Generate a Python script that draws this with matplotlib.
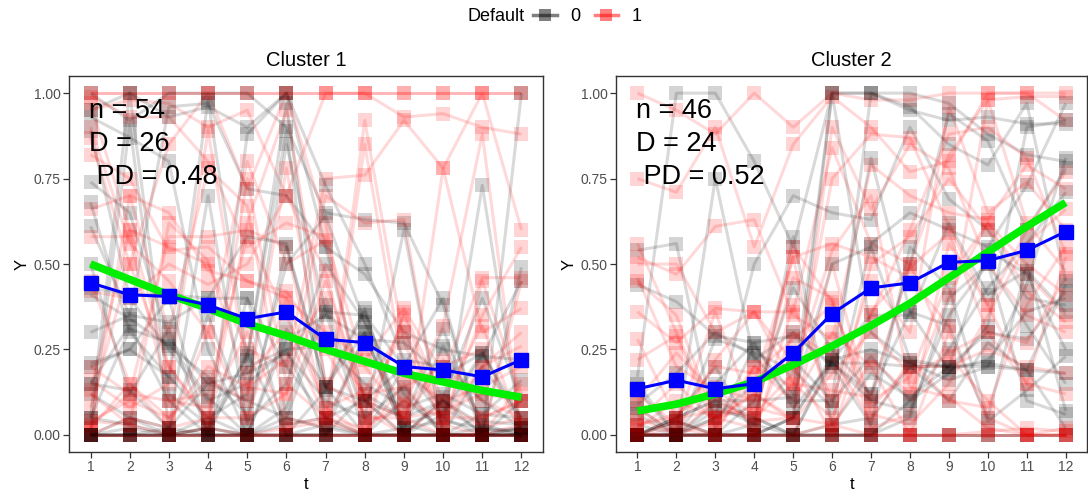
import matplotlib
matplotlib.use("Agg")
import matplotlib.pyplot as plt
from matplotlib.lines import Line2D
import numpy as np

plt.rcParams['font.family'] = ['Liberation Sans', 'DejaVu Sans']

t = list(range(1, 13))

# cluster 1 trajectories, default = 0
c1_black = [
    [0, 0, 0, 0, 0, 0, 0, 0, 0, 0, 0, 0],
    [0, 0, 0, 0, 0, 0, 0, 0, 0, 0, 0, 0],
    [0, 0, 0.02, 0, 0, 0, 0, 0, 0, 0, 0, 0],
    [0.05, 0.03, 0, 0.02, 0, 0, 0.03, 0, 0, 0, 0, 0.02],
    [1, 0.92, 1, 1, 1, 0.9, 0.65, 0.63, 0.62, 0.38, 0, 0],
    [0.61, 0.35, 0.33, 0.4, 0.4, 0, 0.13, 0.36, 0.03, 0.07, 0.24, 0.03],
    [0.2, 0.25, 0.4, 0, 0.88, 1, 0.55, 0.1, 0.05, 0.31, 0, 0.49],
    [0.74, 0.65, 0.28, 0.15, 0.1, 0.05, 0.36, 0.35, 0.2, 0.08, 0.01, 0.02],
    [0.3, 0.35, 0.96, 0.97, 0.72, 0.7, 0.55, 0.47, 0.3, 0.25, 0.23, 0.22],
    [0.12, 0.05, 0, 0.02, 0.2, 0.25, 0, 0.3, 0, 0.11, 0.4, 0.1],
    [0, 0.91, 0.02, 0.7, 0.03, 0.55, 0.14, 0, 0.1, 0.02, 0.73, 0],
    [0.41, 0.34, 0.26, 0.17, 0.06, 0.5, 0.64, 0.33, 0.12, 0, 0.06, 0.16],
    [0.05, 1, 0.12, 0.03, 0.23, 0.89, 0.03, 0.29, 0.03, 0, 0.02, 0.01],
    [0.89, 0.4, 0.25, 0.1, 0.15, 0.25, 0.26, 0.15, 0.08, 0.12, 0.06, 0.05],
    [0.68, 0.3, 0.17, 0.05, 0.12, 0.85, 0.36, 0, 0.2, 0.4, 0, 0],
    [0.43, 0.41, 0.41, 0.4, 0.58, 0.56, 0.14, 0.3, 0, 0, 0.2, 0.05],
    [0.15, 0.13, 0.02, 0.35, 0.04, 0.15, 0.5, 0.33, 0.02, 0.26, 0.04, 0.03],
    [0.21, 0.25, 0.17, 0.98, 0.22, 0.97, 0.14, 0.1, 0.2, 0.05, 0, 0.1],
    [0, 0.02, 0, 0.02, 0, 0.03, 0.05, 0, 0.02, 0.04, 0.02, 0],
    [0.5, 0.12, 0.31, 0, 0.24, 0, 0, 0.12, 0.05, 0.1, 0, 0],
    [0, 0, 0, 0.05, 0, 0.31, 0.14, 0.37, 0, 0.06, 0.23, 0.45],
    [0.93, 0.87, 0.8, 0.25, 0, 0.08, 0.38, 0.05, 0.14, 0, 0, 0],
    [0.15, 0.32, 0.1, 0, 0.4, 0.2, 0.05, 0.1, 0, 0.1, 0.03, 0],
    [0.05, 0.31, 0.27, 0.11, 0, 0.28, 0.35, 0.28, 0.27, 0.17, 0.24, 0.05],
    [0, 0.05, 0.02, 0.15, 0.18, 0.24, 0.1, 0.05, 0.6, 0, 0, 0.02],
    [0, 0, 0, 0, 0, 0, 0, 0, 0, 0, 0, 1],
    [0.95, 1, 0.93, 0.96, 0.9, 1, 0.73, 0.5, 0.22, 0.2, 0.1, 0.02],
    [0, 0, 0, 0, 0, 0.05, 0.02, 0, 0, 0, 0, 0],
]

# cluster 1 trajectories, default = 1
c1_red = [
    [1, 1, 1, 1, 1, 1, 1, 1, 1, 1, 1, 1],
    [1, 1, 1, 1, 1, 1, 1, 1, 1, 1, 1, 1],
    [0, 0, 0, 0, 0, 0, 0, 0, 0, 0, 0, 0],
    [0, 0, 0, 0, 0, 0, 0, 0, 0, 0, 0, 0],
    [0, 0, 0, 0, 0, 0, 0, 0, 0, 0, 0, 0],
    [0.95, 0.98, 0.97, 0.9, 0.95, 0.7, 1, 1, 0.93, 0.94, 0.9, 0.88],
    [0.97, 0.6, 0.55, 0.5, 0.25, 0.2, 0.75, 0.76, 0.92, 0.78, 1, 0.6],
    [0.03, 0.12, 0.58, 0.58, 0.6, 0.55, 0.05, 0, 0.15, 0, 0, 0.45],
    [0.66, 0.7, 0.65, 0.48, 0.45, 0.4, 0.3, 0.22, 0.37, 0.18, 0.46, 0.46],
    [0.9, 0.56, 0.45, 0.3, 0.8, 0.5, 0.57, 0.1, 0, 0.78, 0.3, 0.37],
    [0.08, 0.5, 0.85, 1, 0.72, 1, 0.62, 0.03, 0.35, 0.05, 0.2, 0.26],
    [0.16, 0.08, 0.15, 0.89, 0.18, 0.3, 0.05, 0.92, 0.27, 0.03, 0, 0.15],
    [0.45, 0.15, 0.02, 0.3, 0.05, 0.12, 0.7, 0.62, 0.63, 0, 0.45, 0.12],
    [0.02, 0.7, 0.3, 0.78, 0.67, 0.05, 0.02, 0.85, 0.18, 0.1, 0.32, 0.02],
    [0.04, 0.03, 0.62, 0.51, 0.14, 0.12, 0.45, 0.1, 0.05, 0.07, 0.12, 0.1],
    [0.87, 0.5, 0.2, 0.04, 0.62, 0.95, 0.28, 0.12, 0.14, 0.2, 0.25, 0],
    [0.58, 0.58, 0.1, 0.12, 0.58, 0.35, 0.08, 0, 0.36, 0.1, 0.02, 0.05],
    [0.13, 0.6, 0.2, 0.05, 0.75, 0.15, 0.05, 0.25, 0.09, 0.32, 0.88, 0],
    [0.02, 0.15, 0.05, 0.16, 0.1, 0.78, 0.15, 0.07, 0, 0.1, 0.14, 0.2],
    [0.99, 0.93, 0.93, 0.8, 0.55, 0.62, 0.58, 0.2, 0.05, 0.2, 0.05, 0.1],
    [0.04, 0.1, 0.05, 0.2, 0.14, 0.22, 0.4, 0.1, 0.3, 0.05, 0.35, 0.55],
    [0.82, 0.75, 0.54, 0.55, 0.45, 0.42, 0.25, 0.05, 0.05, 0, 0, 0],
    [0, 0.05, 0.02, 0.05, 0.05, 0.4, 0.08, 0.13, 0.32, 0.02, 0.2, 0.3],
    [0.2, 0.12, 0.1, 0.08, 0.3, 0.03, 0.05, 0.02, 0.1, 0.05, 0.05, 0.1],
    [0.42, 0.4, 0.5, 0.44, 0.5, 0.7, 0.48, 0.04, 0.07, 0.22, 0.1, 0.05],
    [0.12, 0.03, 0, 0.02, 0, 0.02, 0.04, 0, 0, 0, 0, 0.03],
]

# cluster 2 trajectories, default = 0
c2_black = [
    [0, 0, 0, 0, 0, 0, 0, 0, 0, 0, 0, 0],
    [0, 0, 0, 0, 0, 0, 0, 0, 0, 0, 0, 0],
    [0.17, 1, 1, 0.8, 0.55, 1, 1, 1, 0.97, 0.88, 0.82, 0.8],
    [0.54, 0.56, 0.02, 0.26, 0.12, 1, 1, 0.95, 0.92, 0.93, 0.91, 0.91],
    [0.44, 0.39, 0.29, 0.27, 0.29, 0.21, 0.21, 0.2, 0.2, 0.2, 0.19, 0.18],
    [0, 0, 0.05, 0.5, 0.7, 0.65, 0.63, 0.9, 0.69, 0.6, 0.4, 0.38],
    [0, 0.05, 0.2, 0, 0.05, 0.23, 0.81, 0.36, 0.32, 0.04, 0.13, 0.23],
    [0.15, 0, 0.28, 0.24, 0.19, 0.08, 0.56, 0.65, 0.6, 0.55, 0.73, 0.97],
    [0.09, 0.18, 0.3, 0.23, 0.1, 0.1, 1, 0.96, 0.85, 0.79, 0.97, 0.45],
    [0, 0, 0.07, 0.05, 0, 0.22, 0.25, 0.21, 0.2, 0.21, 0.19, 0.02],
    [0, 0.05, 0.1, 0.1, 0.43, 0.25, 0.12, 0.5, 0.94, 0.86, 0.6, 0.78],
    [0, 0, 0, 0, 0, 0.03, 0.18, 0.11, 0.2, 0.3, 0.28, 0.42],
    [0.13, 0, 0.75, 0.22, 0.3, 0.2, 0.03, 0.55, 0.43, 0.05, 0.5, 0.07],
    [0, 0.05, 0.1, 0.05, 0, 0, 0, 0.05, 0.4, 0.5, 0.32, 0.15],
    [0, 0.04, 0, 0, 0.05, 0.22, 0.35, 0.35, 0.62, 0.41, 0.48, 0.36],
    [0.06, 0, 0.05, 0.15, 0.22, 0.1, 0.23, 0.1, 0.18, 0.32, 0.9, 0.92],
    [0, 0, 0, 0.03, 0.58, 0.03, 0.05, 0.2, 0.1, 0.27, 0.19, 0.44],
    [0.03, 0, 0.15, 0.27, 0.08, 0.21, 0.12, 0.36, 0.19, 0.22, 0.36, 0.4],
    [0, 0, 0, 0, 0.05, 1, 0.3, 0.21, 0.16, 0.2, 0.44, 0.81],
    [0, 0.04, 0, 0.1, 0.11, 0.5, 0.55, 0.22, 0.2, 0.54, 0.47, 0.25],
    [0.08, 0, 0.09, 0.03, 0, 0.21, 0.1, 0.07, 0.35, 0.5, 0.1, 0.06],
    [0, 0, 0, 0, 0, 0, 0, 0.1, 0.25, 0.43, 0.56, 0.71],
]

# cluster 2 trajectories, default = 1
c2_red = [
    [0, 0, 0, 0, 0, 0, 0, 0, 0, 0, 0, 0],
    [0, 0, 0, 0, 0, 0, 0, 0, 0, 0, 0, 0],
    [1, 0.95, 0.88, 1, 0.9, 1, 0.98, 0.98, 1, 1, 1, 1],
    [0.75, 0.71, 0.9, 0.55, 0.85, 0.99, 0.9, 0.77, 0.8, 1, 1, 0.92],
    [0.52, 0.47, 0.61, 0.63, 0.35, 0.28, 0.79, 0.7, 0.65, 0.63, 0.79, 0.72],
    [0.36, 0.27, 0.37, 0.36, 0.36, 0.84, 0.56, 0.5, 0.82, 0.98, 0.99, 0.99],
    [0.22, 0.29, 0.02, 0.15, 0.52, 0.56, 0.52, 0.46, 0.32, 0.98, 0.62, 0.48],
    [0.46, 0.2, 0.13, 0.06, 0.46, 0.4, 0.02, 0.06, 0.56, 0.38, 0.6, 0.77],
    [0.08, 0, 0.04, 0.12, 0.05, 0.03, 0.5, 0.58, 0.75, 0.6, 0.47, 0.35],
    [0.02, 0.1, 0.05, 0.08, 0.05, 0.5, 0.08, 0.2, 0.2, 0.25, 0.2, 0.18],
    [0.12, 0.03, 0.36, 0.05, 0.15, 0.13, 0.11, 0.5, 0.24, 0.3, 0.15, 0.52],
    [0.28, 0.05, 0.2, 0.18, 0.28, 0.38, 0.1, 0.17, 0.46, 0.62, 0.42, 0.33],
    [0, 0, 0.1, 0.04, 0.05, 0.9, 0.66, 0.85, 0.78, 0.5, 0.35, 0.3],
    [0.04, 0.15, 0.04, 0.2, 0.1, 0.3, 0.2, 0, 0.3, 0.05, 0, 0],
    [0.56, 0.3, 0.05, 0.02, 0.3, 0.23, 0.04, 0.22, 0.1, 0.08, 0.38, 0.55],
    [0.05, 0, 0.22, 0.36, 0.15, 0.05, 0.36, 0.49, 0.59, 0.3, 0.27, 0.46],
    [0, 0.02, 0, 0, 0.38, 0.1, 0.45, 0.3, 0.96, 0.65, 0.74, 0.6],
    [0.03, 0.05, 0.07, 0.06, 0.18, 0.54, 0.7, 0.14, 0.11, 0.02, 0, 0],
    [0.1, 0.24, 0.12, 0.03, 0.55, 0.39, 0.06, 0.03, 0.15, 0.35, 0.56, 0.66],
    [0.03, 0.06, 0.14, 0.1, 0.52, 0.02, 0.22, 0.12, 0.41, 0.62, 0.5, 0.41],
    [0, 0.04, 0, 0.2, 0.14, 0.75, 0.88, 0.87, 0.61, 0.38, 0.15, 0.12],
    [0.45, 0.35, 0.05, 0.12, 0.04, 0.18, 0.3, 0.18, 0.23, 0.1, 0, 0.02],
    [0.5, 0.5, 0.3, 0.36, 0.21, 0, 0.35, 0.6, 0.88, 0.9, 0.81, 0.53],
    [0, 0, 0, 0, 0, 0.03, 0, 0, 0, 0.01, 0.02, 0.01],
]

# cluster means (blue) and fitted trend (green)
c1_mean = [0.445, 0.41, 0.405, 0.38, 0.34, 0.36, 0.28, 0.27, 0.20, 0.19, 0.17, 0.22]
c2_mean = [0.135, 0.16, 0.135, 0.15, 0.24, 0.355, 0.43, 0.445, 0.505, 0.51, 0.54, 0.595]
c1_fit = [0.50, 0.455, 0.41, 0.37, 0.325, 0.29, 0.25, 0.215, 0.18, 0.155, 0.13, 0.11]
c2_fit = [0.07, 0.09, 0.12, 0.155, 0.205, 0.26, 0.32, 0.385, 0.46, 0.535, 0.61, 0.68]

titles = ["Cluster 1", "Cluster 2"]
labels = ["n = 54\nD = 26\n PD = 0.48", "n = 46\nD = 24\n PD = 0.52"]

fig = plt.figure(figsize=(10.88, 4.96), dpi=100)
ax1 = fig.add_axes([0.0634, 0.0887, 0.4357, 0.758])
ax2 = fig.add_axes([0.5662, 0.0887, 0.4330, 0.758])

panels = [
    (ax1, c1_black, c1_red, c1_mean, c1_fit),
    (ax2, c2_black, c2_red, c2_mean, c2_fit),
]

for i, (ax, blk, red, mean, fit) in enumerate(panels):
    # interleave the two groups so overlaps mix like the original
    order = []
    for k in range(max(len(blk), len(red))):
        if k < len(blk):
            order.append((blk[k], 'black'))
        if k < len(red):
            order.append((red[k], 'red'))
    for y, col in order:
        ax.plot(t, y, color=col, alpha=0.15, lw=2.2, solid_capstyle='butt')
        ax.plot(t, y, ls='none', marker='s', ms=9.5, mew=0,
                color=col, alpha=0.17)
    ax.plot(t, fit, color='#00ee00', lw=5.5, solid_capstyle='butt', zorder=5)
    ax.plot(t, mean, color='blue', lw=2.2, marker='s', ms=10, zorder=6)
    ax.text(0.96, 0.851, labels[i], fontsize=19.5, va='center', ha='left',
            linespacing=1.37, zorder=7)
    ax.set_xlim(0.45, 12.55)
    ax.set_ylim(-0.05, 1.05)
    ax.set_xticks(t)
    ax.set_yticks([0, 0.25, 0.5, 0.75, 1.0])
    ax.set_yticklabels(["0.00", "0.25", "0.50", "0.75", "1.00"])
    ax.tick_params(labelsize=10, colors='#333333', length=4, width=0.9,
                   labelcolor='#4d4d4d', pad=2)
    for s in ax.spines.values():
        s.set_color('#333333')
        s.set_linewidth(1.0)
    ax.set_title(titles[i], fontsize=14.5, pad=7)
    ax.set_xlabel("t", fontsize=12, labelpad=2)
    ax.set_ylabel("Y", fontsize=12, labelpad=3)

# legend on top
fig.text(0.4825, 0.967, "Default", fontsize=13, ha='right', va='center')
handles = [
    Line2D([0], [0], color='black', alpha=0.5, lw=2.5, marker='s', ms=8, mew=0),
    Line2D([0], [0], color='red', alpha=0.5, lw=2.5, marker='s', ms=8, mew=0),
]
fig.legend(handles, ['0', '1'], ncol=2, loc='center left',
           bbox_to_anchor=(0.490, 0.967), frameon=False, fontsize=13,
           borderpad=0, borderaxespad=0,
           handlelength=1.3, handletextpad=0.75, columnspacing=0.8)

fig.savefig("out.png", dpi=100)
